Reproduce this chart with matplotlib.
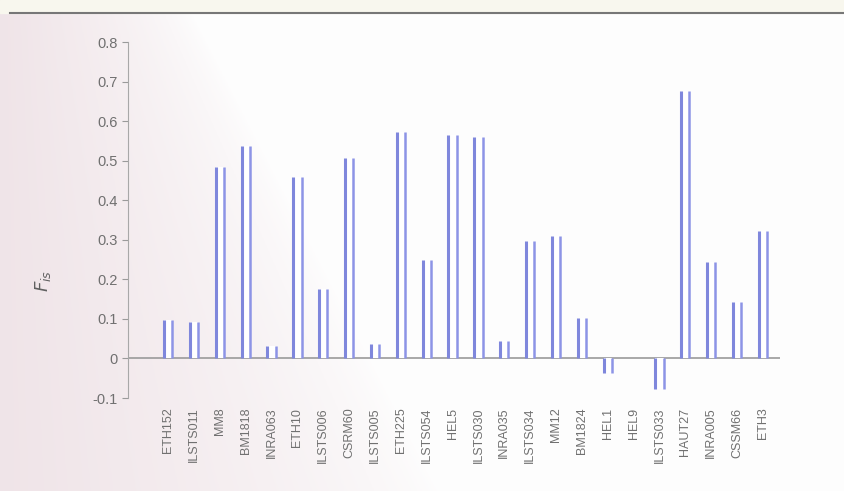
import numpy as np
import matplotlib.pyplot as plt

plt.rcParams['font.family'] = ['Liberation Sans', 'DejaVu Sans']

loci = ['ETH152', 'ILSTS011', 'MM8', 'BM1818', 'INRA063', 'ETH10', 'ILSTS006',
        'CSRM60', 'ILSTS005', 'ETH225', 'ILSTS054', 'HEL5', 'ILSTS030', 'INRA035',
        'ILSTS034', 'MM12', 'BM1824', 'HEL1', 'HEL9', 'ILSTS033', 'HAUT27',
        'INRA005', 'CSSM66', 'ETH3']
fis = [0.098, 0.092, 0.485, 0.538, 0.032, 0.46, 0.175,
       0.507, 0.036, 0.572, 0.25, 0.565, 0.56, 0.045,
       0.296, 0.31, 0.103, -0.038, 0.002, -0.078, 0.675,
       0.245, 0.142, 0.322]
yticks = [-0.1, 0, 0.1, 0.2, 0.3, 0.4, 0.5, 0.6, 0.7, 0.8]

fig = plt.figure(figsize=(8.45, 4.91), dpi=100)

# scanned-page background: pinkish on the left fading to white
bg = fig.add_axes([0, 0, 1, 1], zorder=-5)
xx = np.linspace(0, 1, 300)
yy = np.linspace(0, 1, 200)
X, Y = np.meshgrid(xx, yy)
w = np.clip(1 - X / (0.22 + 0.3 * Y), 0, 1) ** 0.7
pink = np.array([0.94, 0.895, 0.91])
white = np.array([0.995, 0.995, 0.995])
img = white + (pink - white) * w[..., None]
bg.imshow(img, extent=[0, 1, 0, 1], aspect='auto', origin='upper')
bg.axhspan(0.974, 1, color='#f8f7ee')
bg.axhline(0.9735, xmin=0.012, xmax=1, color='#777777', lw=1.5)
bg.set_xlim(0, 1)
bg.set_ylim(0, 1)
bg.axis('off')

ax = fig.add_axes([0.1515, 0.1894, 0.7716, 0.725])
ax.patch.set_alpha(0)
x = np.arange(len(loci))
wd = 0.32
ax.axhline(0, color='#9a9a9a', lw=1.2, zorder=1)
ax.bar(x, fis, width=wd, facecolor='white', edgecolor='none', zorder=2)
# the bars show only their two side edges
ax.vlines(x - wd / 2, 0, fis, color='#7f87dc', lw=2.2, zorder=3)
ax.vlines(x + wd / 2, 0, fis, color='#8d94e6', lw=1.8, zorder=3)

ax.set_xlim(-1.55, 23.66)
ax.set_ylim(-0.1, 0.8)
ax.set_yticks(yticks)
ax.set_yticklabels(['-0.1', '0', '0.1', '0.2', '0.3', '0.4', '0.5', '0.6', '0.7', '0.8'],
                   fontsize=10.5, color='#707070')
ax.set_xticks(x)
ax.set_xticklabels(loci, rotation=90, fontsize=9, color='#707070')
ax.tick_params(axis='x', length=0, pad=7)
ax.tick_params(axis='y', length=4, color='#9a9a9a', direction='out')

for s in ['top', 'right', 'bottom']:
    ax.spines[s].set_visible(False)
ax.spines['left'].set_color('#a8a8a8')
ax.set_ylabel(r'$F_{is}$', fontsize=13, color='#606060')
ax.yaxis.set_label_coords(-0.115, 0.33)

plt.savefig('out.png', dpi=100)
